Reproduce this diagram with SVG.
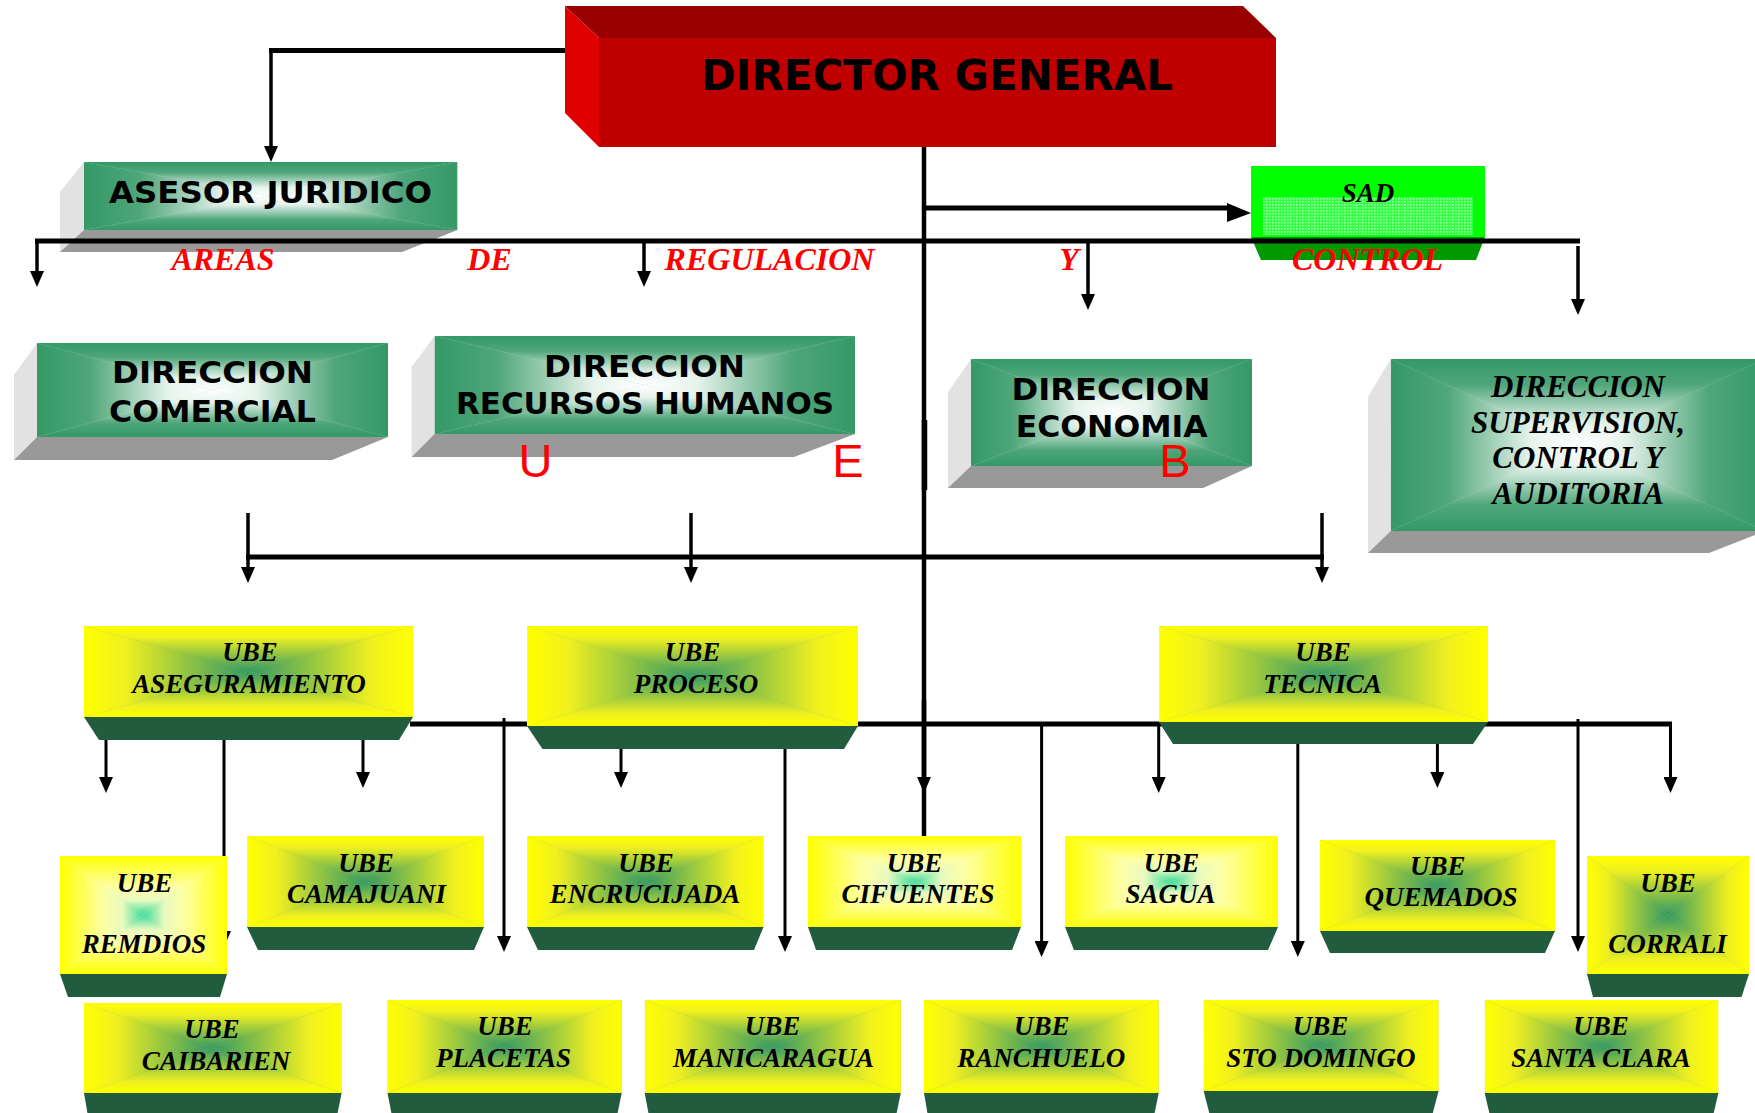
<svg xmlns="http://www.w3.org/2000/svg" xmlns:xlink="http://www.w3.org/1999/xlink" width="1755" height="1113" viewBox="0 0 1755 1113">
<style>
.dg{font-family:"DejaVu Sans","Liberation Sans",sans-serif;font-weight:bold;font-size:42px;fill:#000;text-anchor:middle}
.gb{font-family:"DejaVu Sans","Liberation Sans",sans-serif;font-weight:bold;font-size:31px;fill:#000;text-anchor:middle}
.ub{font-family:"Liberation Serif","Times New Roman",serif;font-weight:bold;font-style:italic;font-size:27px;fill:#000;text-anchor:middle}
.sv{font-family:"Liberation Serif","Times New Roman",serif;font-weight:bold;font-style:italic;font-size:31px;fill:#000;text-anchor:middle}
.sad{font-family:"Liberation Serif","Times New Roman",serif;font-weight:bold;font-style:italic;font-size:27px;fill:#000;text-anchor:middle}
.rl{font-family:"Liberation Serif","Times New Roman",serif;font-weight:bold;font-style:italic;font-size:32px;fill:#FF0000;text-anchor:middle}
.rb{font-family:"Liberation Sans",Arial,sans-serif;font-size:47px;fill:#FF0000;text-anchor:middle}
.side{fill:#E2E2E2}
.bot{fill:#999999}
.ubf{fill:#215C3F}
.ln{fill:none;stroke:#000;stroke-width:3}
.lnT{fill:none;stroke:#000;stroke-width:5}
.ar{fill:none;stroke:#000;stroke-width:3;marker-end:url(#ah)}
.arT{fill:none;stroke:#000;stroke-width:3.5;marker-end:url(#ah)}
</style>
<defs>
<marker id="ah" viewBox="0 0 16 14" refX="8" refY="7" markerWidth="17" markerHeight="14" markerUnits="userSpaceOnUse" orient="auto"><path d="M0,0 L16,7 L0,14 z" fill="#000"/></marker>
<linearGradient id="yS"><stop offset="0" stop-color="#FFFF00"/><stop offset="0.25" stop-color="#F0F020"/><stop offset="1" stop-color="#339966"/></linearGradient>
<linearGradient id="yT" href="#yS" xlink:href="#yS" x1="0" y1="0" x2="0" y2="1"/>
<linearGradient id="yB" href="#yS" xlink:href="#yS" x1="0" y1="1" x2="0" y2="0"/>
<linearGradient id="yL" href="#yS" xlink:href="#yS" x1="0" y1="0" x2="1" y2="0"/>
<linearGradient id="yR" href="#yS" xlink:href="#yS" x1="1" y1="0" x2="0" y2="0"/>
<linearGradient id="mS"><stop offset="0" stop-color="#FFFF00"/><stop offset="0.5" stop-color="#FFFFA0"/><stop offset="0.75" stop-color="#E8FAC0"/><stop offset="1" stop-color="#3CDB9C"/></linearGradient>
<linearGradient id="mT" href="#mS" xlink:href="#mS" x1="0" y1="0" x2="0" y2="1"/>
<linearGradient id="mB" href="#mS" xlink:href="#mS" x1="0" y1="1" x2="0" y2="0"/>
<linearGradient id="mL" href="#mS" xlink:href="#mS" x1="0" y1="0" x2="1" y2="0"/>
<linearGradient id="mR" href="#mS" xlink:href="#mS" x1="1" y1="0" x2="0" y2="0"/>
<linearGradient id="gS"><stop offset="0" stop-color="#339966"/><stop offset="0.3" stop-color="#4FA67A"/><stop offset="0.75" stop-color="#E6F3EC"/><stop offset="1" stop-color="#FFFFFF"/></linearGradient>
<linearGradient id="gT" href="#gS" xlink:href="#gS" x1="0" y1="0" x2="0" y2="1"/>
<linearGradient id="gB" href="#gS" xlink:href="#gS" x1="0" y1="1" x2="0" y2="0"/>
<linearGradient id="gL" href="#gS" xlink:href="#gS" x1="0" y1="0" x2="1" y2="0"/>
<linearGradient id="gR" href="#gS" xlink:href="#gS" x1="1" y1="0" x2="0" y2="0"/>
<symbol id="faceY" viewBox="0 0 100 100" preserveAspectRatio="none">
<rect width="100" height="100" fill="#A6C23C"/>
<polygon points="0,0 100,0 50,50" fill="url(#yT)"/><polygon points="0,100 100,100 50,50" fill="url(#yB)"/>
<polygon points="0,0 0,100 50,50" fill="url(#yL)"/><polygon points="100,0 100,100 50,50" fill="url(#yR)"/>
</symbol>
<symbol id="faceM" viewBox="0 0 100 100" preserveAspectRatio="none">
<rect width="100" height="100" fill="#F0F8A0"/>
<polygon points="0,0 100,0 50,50" fill="url(#mT)"/><polygon points="0,100 100,100 50,50" fill="url(#mB)"/>
<polygon points="0,0 0,100 50,50" fill="url(#mL)"/><polygon points="100,0 100,100 50,50" fill="url(#mR)"/>
</symbol>
<symbol id="faceG" viewBox="0 0 100 100" preserveAspectRatio="none">
<rect width="100" height="100" fill="#B0D8C2"/>
<polygon points="0,0 100,0 50,50" fill="url(#gT)"/><polygon points="0,100 100,100 50,50" fill="url(#gB)"/>
<polygon points="0,0 0,100 50,50" fill="url(#gL)"/><polygon points="100,0 100,100 50,50" fill="url(#gR)"/>
</symbol>
<pattern id="sadPat" width="3" height="3" patternUnits="userSpaceOnUse"><rect width="3" height="3" fill="#33FF44"/><rect width="1.5" height="1.5" fill="#A0FFA8"/></pattern>
</defs>
<rect width="1755" height="1113" fill="#FFFFFF"/>

<g id="director-general">
<polygon points="565,6 1243,6 1276,38 599,38" fill="#990000"/>
<polygon points="565,6 599,38 599,147 565,113" fill="#E00000"/>
<rect x="599" y="38" width="677" height="109" fill="#C00000"/>
<text class="dg" x="937" y="90" textLength="472" lengthAdjust="spacingAndGlyphs">DIRECTOR GENERAL</text>
</g>

<g id="asesor-juridico">
<polygon class="side" points="84,162 60,192 60,252 84,230"/>
<polygon class="bot" points="84,230 457.5,230 402,252 60,252"/>
<use href="#faceG" xlink:href="#faceG" x="84" y="162" width="373.5" height="68"/>
<text class="gb" x="270.5" y="203" textLength="323" lengthAdjust="spacingAndGlyphs">ASESOR JURIDICO</text>
</g>

<g id="sad">
<polygon points="1251,237 1485,237 1476,260 1261,260" fill="#009900"/>
<rect x="1251" y="166" width="234" height="71" fill="#00FF00"/>
<rect x="1263" y="197" width="210" height="38" fill="url(#sadPat)"/>
<text class="sad" x="1368" y="202">SAD</text>
</g>

<g id="direccion-comercial">
<polygon class="side" points="37,343 14,375 14,460 37,437"/>
<polygon class="bot" points="37,437 388,437 332,460 14,460"/>
<use href="#faceG" xlink:href="#faceG" x="37" y="343" width="351" height="94"/>
<text class="gb" x="212.5" y="383" textLength="201" lengthAdjust="spacingAndGlyphs">DIRECCION</text>
<text class="gb" x="212.5" y="422" textLength="207" lengthAdjust="spacingAndGlyphs">COMERCIAL</text>
</g>

<g id="direccion-rrhh">
<polygon class="side" points="434.5,336 411.6,367 411.6,457 434.5,434"/>
<polygon class="bot" points="434.5,434 855,434 794,457 411.6,457"/>
<use href="#faceG" xlink:href="#faceG" x="434.5" y="336" width="420.5" height="98"/>
<text class="gb" x="644.5" y="377" textLength="201" lengthAdjust="spacingAndGlyphs">DIRECCION</text>
<text class="gb" x="645" y="414" textLength="378" lengthAdjust="spacingAndGlyphs">RECURSOS HUMANOS</text>
</g>

<g id="direccion-economia">
<polygon class="side" points="971,359 948,392 948,488 971,466"/>
<polygon class="bot" points="971,466 1252,466 1203,488 948,488"/>
<use href="#faceG" xlink:href="#faceG" x="971" y="359" width="281" height="107"/>
<text class="gb" x="1111" y="400" textLength="199" lengthAdjust="spacingAndGlyphs">DIRECCION</text>
<text class="gb" x="1111.7" y="437" textLength="192" lengthAdjust="spacingAndGlyphs">ECONOMIA</text>
</g>

<g id="direccion-supervision">
<polygon class="side" points="1390.7,359 1368,397 1368,553 1390.7,531"/>
<polygon class="bot" points="1390.7,531 1765,531 1709,553 1368,553"/>
<use href="#faceG" xlink:href="#faceG" x="1390.7" y="359" width="374.3" height="172"/>
<text class="sv" x="1578" y="397">DIRECCION</text>
<text class="sv" x="1578" y="433">SUPERVISION,</text>
<text class="sv" x="1578" y="468">CONTROL Y</text>
<text class="sv" x="1578" y="504">AUDITORIA</text>
</g>

<g id="connectors">
<path class="lnT" d="M565,50.5 H269"/>
<path class="arT" d="M271,50 V154"/>
<path class="ln" d="M924,147 V836" style="stroke-width:4.5"/>
<path class="ln" d="M924.5,420 V490" style="stroke-width:5.5"/>
<path class="arT" d="M924,700 V785" style="stroke-width:4.5"/>
<path class="lnT" d="M922,208 H1230"/>
<polygon points="1227,203 1251,213 1227,222" fill="#000"/>
<path class="lnT" d="M35,241 H1580"/>
<path class="arT" d="M37,239 V279"/>
<path class="arT" d="M644,239 V279"/>
<path class="arT" d="M1088,239 V302"/>
<path class="arT" d="M1578,246 V307"/>
<path class="lnT" d="M246,557 H1324"/>
<path class="arT" d="M248,513 V575"/>
<path class="arT" d="M691,513 V575"/>
<path class="arT" d="M1322,513 V575"/>
<path class="lnT" d="M410,724 H1672"/>
<path class="ar" d="M1670.5,722 V785"/>
<path class="ar" d="M106,736 V785"/>
<path class="ar" d="M363,736 V780"/>
<path class="ar" d="M224,736 V939"/>
<path class="ar" d="M504,718 V944"/>
<path class="ar" d="M621,745 V780"/>
<path class="ar" d="M785,745 V944"/>
<path class="ar" d="M1041.6,724 V949"/>
<path class="ar" d="M1158.7,724 V785"/>
<path class="ar" d="M1297.8,740 V949"/>
<path class="ar" d="M1437.4,740 V780"/>
<path class="ar" d="M1578,719 V944"/>
</g>

<g id="ube-aseguramiento">
<polygon class="ubf" points="84,717 413,717 399,740 99,740"/>
<use href="#faceY" xlink:href="#faceY" x="84" y="626" width="329" height="91"/>
<text class="ub" x="250" y="661">UBE</text>
<text class="ub" x="249" y="693">ASEGURAMIENTO</text>
</g>
<g id="ube-proceso">
<polygon class="ubf" points="527,726 858,726 844,749 542.5,749"/>
<use href="#faceY" xlink:href="#faceY" x="527" y="626" width="331" height="100"/>
<text class="ub" x="692.5" y="661">UBE</text>
<text class="ub" x="696" y="693">PROCESO</text>
</g>
<g id="ube-tecnica">
<polygon class="ubf" points="1159,722 1488,722 1473,744 1173,744"/>
<use href="#faceY" xlink:href="#faceY" x="1159" y="626" width="329" height="96"/>
<text class="ub" x="1323" y="661">UBE</text>
<text class="ub" x="1322.5" y="693">TECNICA</text>
</g>

<g id="ube-remedios">
<polygon class="ubf" points="60,974 227,974 220,997 68,997"/>
<use href="#faceM" xlink:href="#faceM" x="60" y="856" width="167" height="118"/>
<text class="ub" x="144.5" y="892">UBE</text>
<text class="ub" x="144" y="953">REMDIOS</text>
</g>
<g id="ube-camajuani">
<polygon class="ubf" points="247,927 484,927 474,950 258,950"/>
<use href="#faceY" xlink:href="#faceY" x="247" y="836" width="237" height="91"/>
<text class="ub" x="366" y="872">UBE</text>
<text class="ub" x="366.5" y="903">CAMAJUANI</text>
</g>
<g id="ube-encrucijada">
<polygon class="ubf" points="527,927 763.5,927 754,950 538,950"/>
<use href="#faceY" xlink:href="#faceY" x="527" y="836" width="236.5" height="91"/>
<text class="ub" x="646" y="872">UBE</text>
<text class="ub" x="645" y="903">ENCRUCIJADA</text>
</g>
<g id="ube-cifuentes">
<polygon class="ubf" points="808,927 1021,927 1012,950 816,950"/>
<use href="#faceM" xlink:href="#faceM" x="808" y="836" width="213" height="91"/>
<text class="ub" x="914.5" y="872">UBE</text>
<text class="ub" x="918" y="903">CIFUENTES</text>
</g>
<g id="ube-sagua">
<polygon class="ubf" points="1065,927 1278,927 1268,950 1074,950"/>
<use href="#faceM" xlink:href="#faceM" x="1065" y="836" width="213" height="91"/>
<text class="ub" x="1171.5" y="872">UBE</text>
<text class="ub" x="1170.5" y="903">SAGUA</text>
</g>
<g id="ube-quemados">
<polygon class="ubf" points="1320,931 1555,931 1545,953 1330,953"/>
<use href="#faceY" xlink:href="#faceY" x="1320" y="840" width="235" height="91"/>
<text class="ub" x="1437.7" y="875">UBE</text>
<text class="ub" x="1441" y="906">QUEMADOS</text>
</g>
<g id="ube-corrali">
<polygon class="ubf" points="1587,974 1749,974 1741.5,997 1593,997"/>
<use href="#faceY" xlink:href="#faceY" x="1587" y="856" width="162" height="118"/>
<text class="ub" x="1668" y="892">UBE</text>
<text class="ub" x="1667.5" y="953">CORRALI</text>
</g>

<g id="ube-caibarien">
<polygon class="ubf" points="84,1093 341.6,1093 337,1116 88,1116"/>
<use href="#faceY" xlink:href="#faceY" x="84" y="1003" width="257.6" height="90"/>
<text class="ub" x="212" y="1038">UBE</text>
<text class="ub" x="216" y="1070">CAIBARIEN</text>
</g>
<g id="ube-placetas">
<polygon class="ubf" points="387.5,1093 621.7,1093 617,1116 392,1116"/>
<use href="#faceY" xlink:href="#faceY" x="387.5" y="1000" width="234.2" height="93"/>
<text class="ub" x="505" y="1035">UBE</text>
<text class="ub" x="503.5" y="1067">PLACETAS</text>
</g>
<g id="ube-manicaragua">
<polygon class="ubf" points="644.7,1093 900.8,1093 896,1116 649,1116"/>
<use href="#faceY" xlink:href="#faceY" x="644.7" y="1000" width="256.1" height="93"/>
<text class="ub" x="772.5" y="1035">UBE</text>
<text class="ub" x="773.5" y="1067">MANICARAGUA</text>
</g>
<g id="ube-ranchuelo">
<polygon class="ubf" points="924,1093 1158.7,1093 1154,1116 928,1116"/>
<use href="#faceY" xlink:href="#faceY" x="924" y="1000" width="234.7" height="93"/>
<text class="ub" x="1041.8" y="1035">UBE</text>
<text class="ub" x="1041.3" y="1067">RANCHUELO</text>
</g>
<g id="ube-sto-domingo">
<polygon class="ubf" points="1203.7,1091 1438.6,1091 1432,1116 1210,1116"/>
<use href="#faceY" xlink:href="#faceY" x="1203.7" y="1000" width="234.9" height="91"/>
<text class="ub" x="1320.5" y="1035">UBE</text>
<text class="ub" x="1320.8" y="1067">STO DOMINGO</text>
</g>
<g id="ube-santa-clara">
<polygon class="ubf" points="1484.7,1093 1718.4,1093 1713,1116 1490,1116"/>
<use href="#faceY" xlink:href="#faceY" x="1484.7" y="1000" width="233.7" height="93"/>
<text class="ub" x="1601" y="1035">UBE</text>
<text class="ub" x="1601" y="1067">SANTA CLARA</text>
</g>

<g id="labels">
<text class="rl" x="223" y="270">AREAS</text>
<text class="rl" x="489.5" y="270">DE</text>
<text class="rl" x="769.5" y="270">REGULACION</text>
<text class="rl" x="1069" y="270">Y</text>
<text class="rl" x="1367.5" y="270">CONTROL</text>
<text class="rb" x="535.5" y="477">U</text>
<text class="rb" x="848" y="477">E</text>
<text class="rb" x="1175" y="477">B</text>
</g>
</svg>
